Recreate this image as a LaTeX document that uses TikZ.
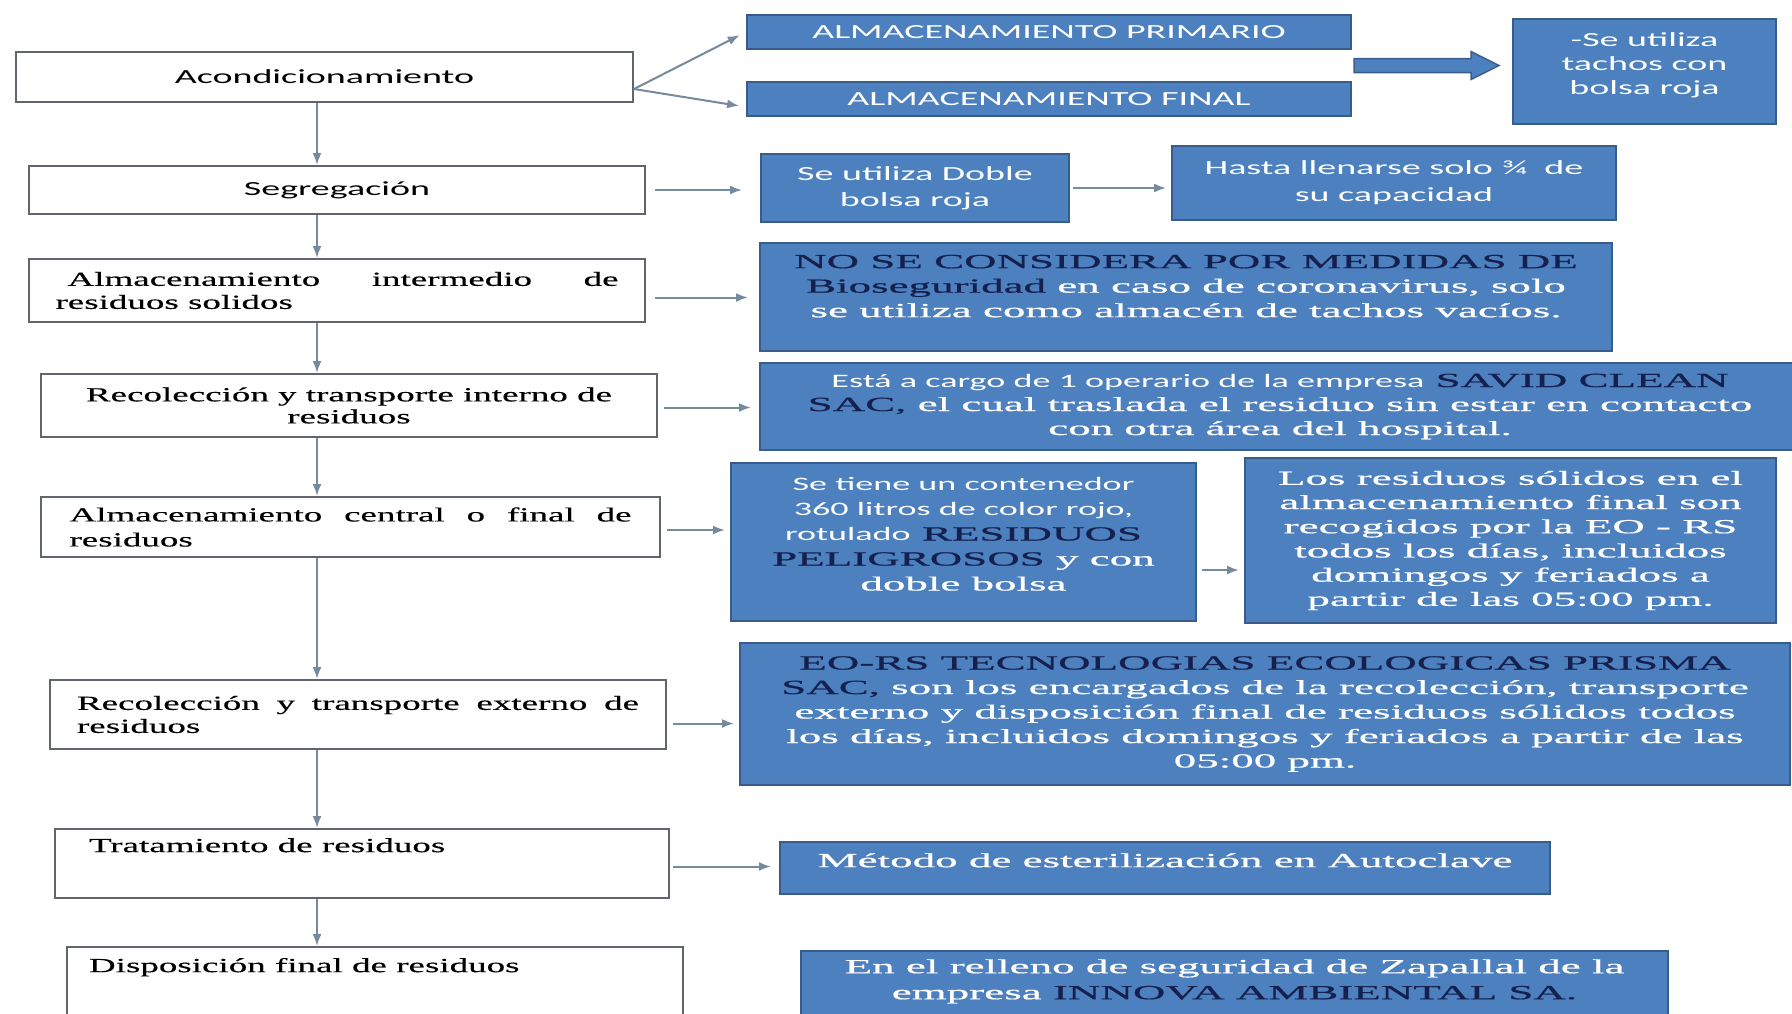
\documentclass[tikz,border=0pt]{standalone}
\usepackage{fontspec}
\newfontfamily\calib{Carlito}[FakeStretch=1.9]
\newfontfamily\romL{Liberation Serif}[FakeStretch=1.85,FakeBold=0.3]
\newfontfamily\romR{Liberation Serif}[FakeStretch=2.25,FakeBold=0.8]
\usetikzlibrary{arrows.meta,calc}

\definecolor{boxblue}{RGB}{77,128,190}
\definecolor{boxedge}{RGB}{56,93,138}
\definecolor{navy}{RGB}{22,32,78}
\definecolor{arrgray}{RGB}{118,138,158}
\definecolor{lgray}{RGB}{96,102,108}

\newcommand{\dk}[1]{\textcolor{navy}{#1}}
% text box hung from the top: width, height, top gap, text
\newcommand{\topbox}[4]{\parbox[c][#2][t]{#1}{\vspace*{#3}#4}}

\tikzset{every picture/.style={line width=2pt}}
\tikzset{
  lbox/.style={draw=lgray, fill=white, inner sep=0pt},
  bbox/.style={draw=boxedge, fill=boxblue, text=white, inner sep=0pt, align=center},
  sansf/.style={font=\calib\fontsize{20}{#1}\selectfont},
  serR/.style={font=\romR\fontsize{20}{#1}\selectfont},
  serL/.style={font=\romL\fontsize{20}{#1}\selectfont},
  arr/.style={draw=arrgray, -{Latex[length=12pt,width=9pt]}},
  blockarr/.style={draw=boxedge, fill=boxblue, line width=1.5pt}
}

\begin{document}
\begin{tikzpicture}[x=1pt,y=1pt,yscale=-1,xscale=1]
\useasboundingbox (0,0) rectangle (1792,1013);

% left column: steps
\node[lbox, sansf=24, minimum width=617pt, minimum height=50pt] (acond) at (324.5,77) {Acondicionamiento};
\node[lbox, sansf=24, minimum width=616pt, minimum height=48pt] (segreg) at (337,190) {Segregación};
\node[lbox, serL=23, minimum width=616pt, minimum height=63pt] (almint) at (337,290.5) {\parbox{563pt}{\hspace*{12pt}Almacenamiento\hfill intermedio\hfill de\\residuos solidos}};
\node[lbox, serL=22, minimum width=616pt, minimum height=63pt, align=center] (recint) at (349,405.5) {Recolección y transporte interno de\\residuos};
\node[lbox, serL=25, minimum width=619pt, minimum height=60pt] (almcen) at (350.5,527) {\parbox{562pt}{Almacenamiento\hfill central\hfill o\hfill final\hfill de\\residuos}};
\node[lbox, serL=23, minimum width=616pt, minimum height=69pt] (recext) at (358,714.5) {\parbox{562pt}{Recolección\hfill y\hfill transporte\hfill externo\hfill de\\residuos}};
\node[lbox, serL=23] (tratam) at (362,863.5) {\topbox{614pt}{69pt}{7pt}{\strut\hspace*{34pt}Tratamiento de residuos}};
\node[lbox, serL=23] (dispfin) at (375,1007) {\topbox{616pt}{120pt}{9pt}{\strut\hspace*{22pt}Disposición final de residuos}};

% right column: details
\node[bbox, sansf=24, minimum width=604pt, minimum height=34pt] (prim) at (1049,32) {ALMACENAMIENTO PRIMARIO};
\node[bbox, sansf=24, minimum width=604pt, minimum height=34pt] (fin) at (1049,99) {ALMACENAMIENTO FINAL};
\node[bbox, sansf=24] (tachos) at (1644.5,71.5) {\topbox{263pt}{105pt}{11pt}{\centering\strut-Se utiliza\\tachos con\\bolsa roja}};
\node[bbox, sansf=26, minimum width=308pt, minimum height=68pt] (doble) at (915,188) {Se utiliza Doble\\bolsa roja};
\node[bbox, sansf=27, minimum width=444pt, minimum height=74pt] (hasta) at (1394,183) {Hasta llenarse solo ¾\ \ de\\su capacidad};
\node[bbox, serR=24.5] (nose) at (1186,297) {\topbox{852pt}{108pt}{8pt}{\centering\strut\dk{NO SE CONSIDERA POR MEDIDAS DE}\\\dk{Bioseguridad} en caso de coronavirus, solo\\se utiliza como almacén de tachos vacíos.}};
\node[bbox, serR=24, minimum width=1040pt, minimum height=87pt] (esta) at (1280,406.5) {{\calib\fontsize{19}{24}\selectfont Está a cargo de 1 operario de la empresa} \dk{SAVID CLEAN}\\\dk{SAC,} el cual traslada el residuo sin estar en contacto\\con otra área del hospital.};
\node[bbox, serR=25] (setiene) at (963.5,542) {\topbox{465pt}{158pt}{10pt}{\centering\strut{\calib\fontsize{19}{25}\selectfont Se tiene un contenedor}\\{\calib\fontsize{19}{25}\selectfont 360 litros de color rojo,}\\{\calib\fontsize{19}{25}\selectfont rotulado} \dk{RESIDUOS}\\\dk{PELIGROSOS} y con\\doble bolsa}};
\node[bbox, serR=24.2, minimum width=531pt, minimum height=165pt] (losres) at (1510.5,540.5) {Los residuos sólidos en el\\almacenamiento final son\\recogidos por la EO - RS\\todos los días, incluidos\\domingos y feriados a\\partir de las 05:00 pm.};
\node[bbox, serR=24.5, minimum width=1050pt, minimum height=142pt] (eors) at (1265,714) {\dk{EO-RS TECNOLOGIAS ECOLOGICAS PRISMA}\\\dk{SAC,} son los encargados de la recolección, transporte\\externo y disposición final de residuos sólidos todos\\los días, incluidos domingos y feriados a partir de las\\05:00 pm.};
\node[bbox, serR=24.5] (metodo) at (1165,868) {\topbox{770pt}{52pt}{8pt}{\centering\strut Método de esterilización en Autoclave}};
\node[bbox, serR=26] (relleno) at (1234.5,1001) {\topbox{867pt}{100pt}{4pt}{\centering\strut En el relleno de seguridad de Zapallal de la\\empresa \dk{INNOVA AMBIENTAL SA.}}};

% main line down the left column
\coordinate (spine) at (317,0);
\draw[arr] (acond.south -| spine) -- (segreg.north -| spine);
\draw[arr] (segreg.south -| spine) -- (almint.north -| spine);
\draw[arr] (almint.south -| spine) -- (recint.north -| spine);
\draw[arr] (recint.south -| spine) -- (almcen.north -| spine);
\draw[arr] (almcen.south -| spine) -- (recext.north -| spine);
\draw[arr] (recext.south -| spine) -- (tratam.north -| spine);
\draw[arr] (tratam.south -| spine) -- (dispfin.north -| spine);

% fan out of Acondicionamiento
\draw[arr, shorten >=7pt] ([yshift=12pt]acond.east) -- (prim.west);
\draw[arr, shorten >=7pt] ([yshift=12pt]acond.east) -- ([yshift=8pt]fin.west);

% block arrow to the bag box
\draw[blockarr] ($(prim.east)!0.5!(fin.east)$) ++(2,-7) -- ++(117,0) -- ++(0,-7) -- ++(28,14) -- ++(-28,14) -- ++(0,-7) -- ++(-117,0) -- cycle;

% side arrows
\draw[arr, shorten <=9pt, shorten >=18pt] (segreg.east) -- (segreg.east -| doble.west);
\draw[arr, shorten <=3pt, shorten >=5pt] (doble.east) -- (doble.east -| hasta.west);
\draw[arr, shorten <=9pt, shorten >=11pt] ([yshift=7pt]almint.east) -- ([yshift=7pt]almint.east -| nose.west);
\draw[arr, shorten <=6pt, shorten >=8pt] ([yshift=2pt]recint.east) -- ([yshift=2pt]recint.east -| esta.west);
\draw[arr, shorten <=6pt, shorten >=5pt] ([yshift=3pt]almcen.east) -- ([yshift=3pt]almcen.east -| setiene.west);
\draw[arr, shorten <=5pt, shorten >=5pt] ([yshift=28pt]setiene.east) -- ([yshift=28pt]setiene.east -| losres.west);
\draw[arr, shorten <=6pt, shorten >=5pt] ([yshift=9pt]recext.east) -- ([yshift=9pt]recext.east -| eors.west);
\draw[arr, shorten <=3pt, shorten >=8pt] ([yshift=3pt]tratam.east) -- ([yshift=3pt]tratam.east -| metodo.west);
\draw[arr, shorten <=3pt, shorten >=6pt] ([yshift=30pt]dispfin.east) -- ([yshift=30pt]dispfin.east -| relleno.west);

\end{tikzpicture}
\end{document}
